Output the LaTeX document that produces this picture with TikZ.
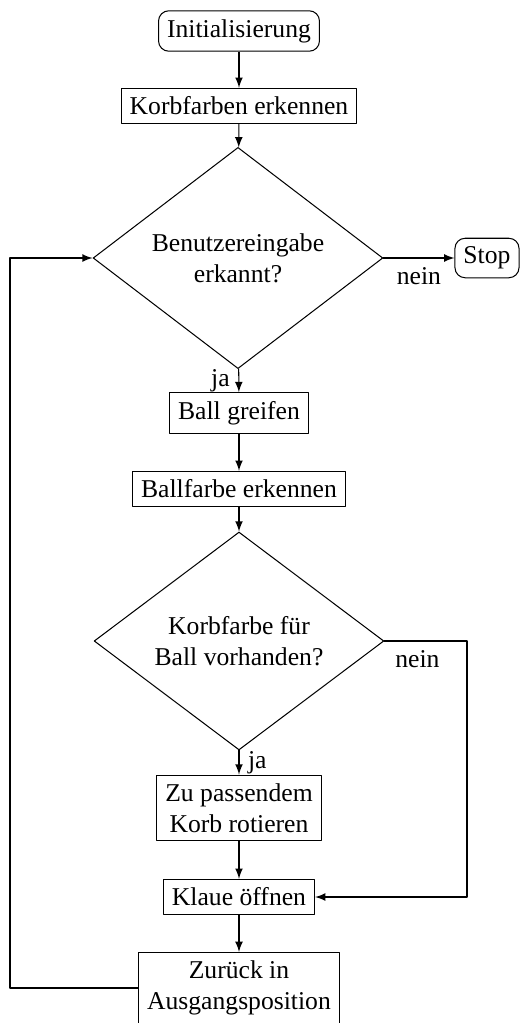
\documentclass[tikz,border=0pt]{standalone}
\usepackage{fontspec}
\setmainfont{Liberation Serif}
\usetikzlibrary{shapes.geometric}
\begin{document}
\begin{tikzpicture}[x=0.39pt, y=-0.39pt, font=\normalsize, line join=round, >=latex,
	block/.style={draw, rectangle, align=center},
	start/.style={draw, rectangle, rounded corners=4pt, align=center},
	decision/.style={draw, diamond, align=center, inner sep=0pt, minimum width=113pt, minimum height=75pt}]
	\useasboundingbox (0,0) rectangle (520,1023);
	% Ablauf
	\node[start] (init) at (239,31) {Initialisierung};
	\node[block] (korb) at (239,106) {Korbfarben erkennen};
	\node[decision] (eingabe) at (238,258) {Benutzereingabe\\erkannt?};
	\node[start] (stop) at (487,258) {Stop};
	\node[block] (greifen) at (239,413) {Ball greifen};
	\node[block] (ballfarbe) at (239,489) {Ballfarbe erkennen};
	\node[decision] (vorhanden) at (239,641) {Korbfarbe für\\Ball vorhanden?};
	\node[block] (rotieren) at (239,808) {Zu passendem\\Korb rotieren};
	\node[block] (klaue) at (239,897) {Klaue öffnen};
	\node[block] (zurueck) at (239,988) {Zurück in\\Ausgangsposition};
	% Eckpunkte
	\coordinate (l1) at (10,988);
	\coordinate (l2) at (10,258);
	\coordinate (r1) at (467,641);
	\coordinate (r2) at (467,897);
	% Pfeile
	\draw[->] (init)--(korb);
	\draw[->] (korb)--(eingabe);
	\draw[->] (eingabe)--(stop) node[midway,below]{nein};
	\draw[->] (eingabe)--(greifen) node[midway,left]{ja};
	\draw[->] (greifen)--(ballfarbe);
	\draw[->] (ballfarbe)--(vorhanden);
	\draw[->] (vorhanden)--(rotieren) node[midway,right]{ja};
	\draw[->] (vorhanden.east)--(r1) node[pos=0.4,below]{nein} --(r2)--(klaue.east);
	\draw[->] (rotieren)--(klaue);
	\draw[->] (klaue)--(zurueck);
	\draw[->] (zurueck.west)--(l1)--(l2)--(eingabe.west);
\end{tikzpicture}
\end{document}
